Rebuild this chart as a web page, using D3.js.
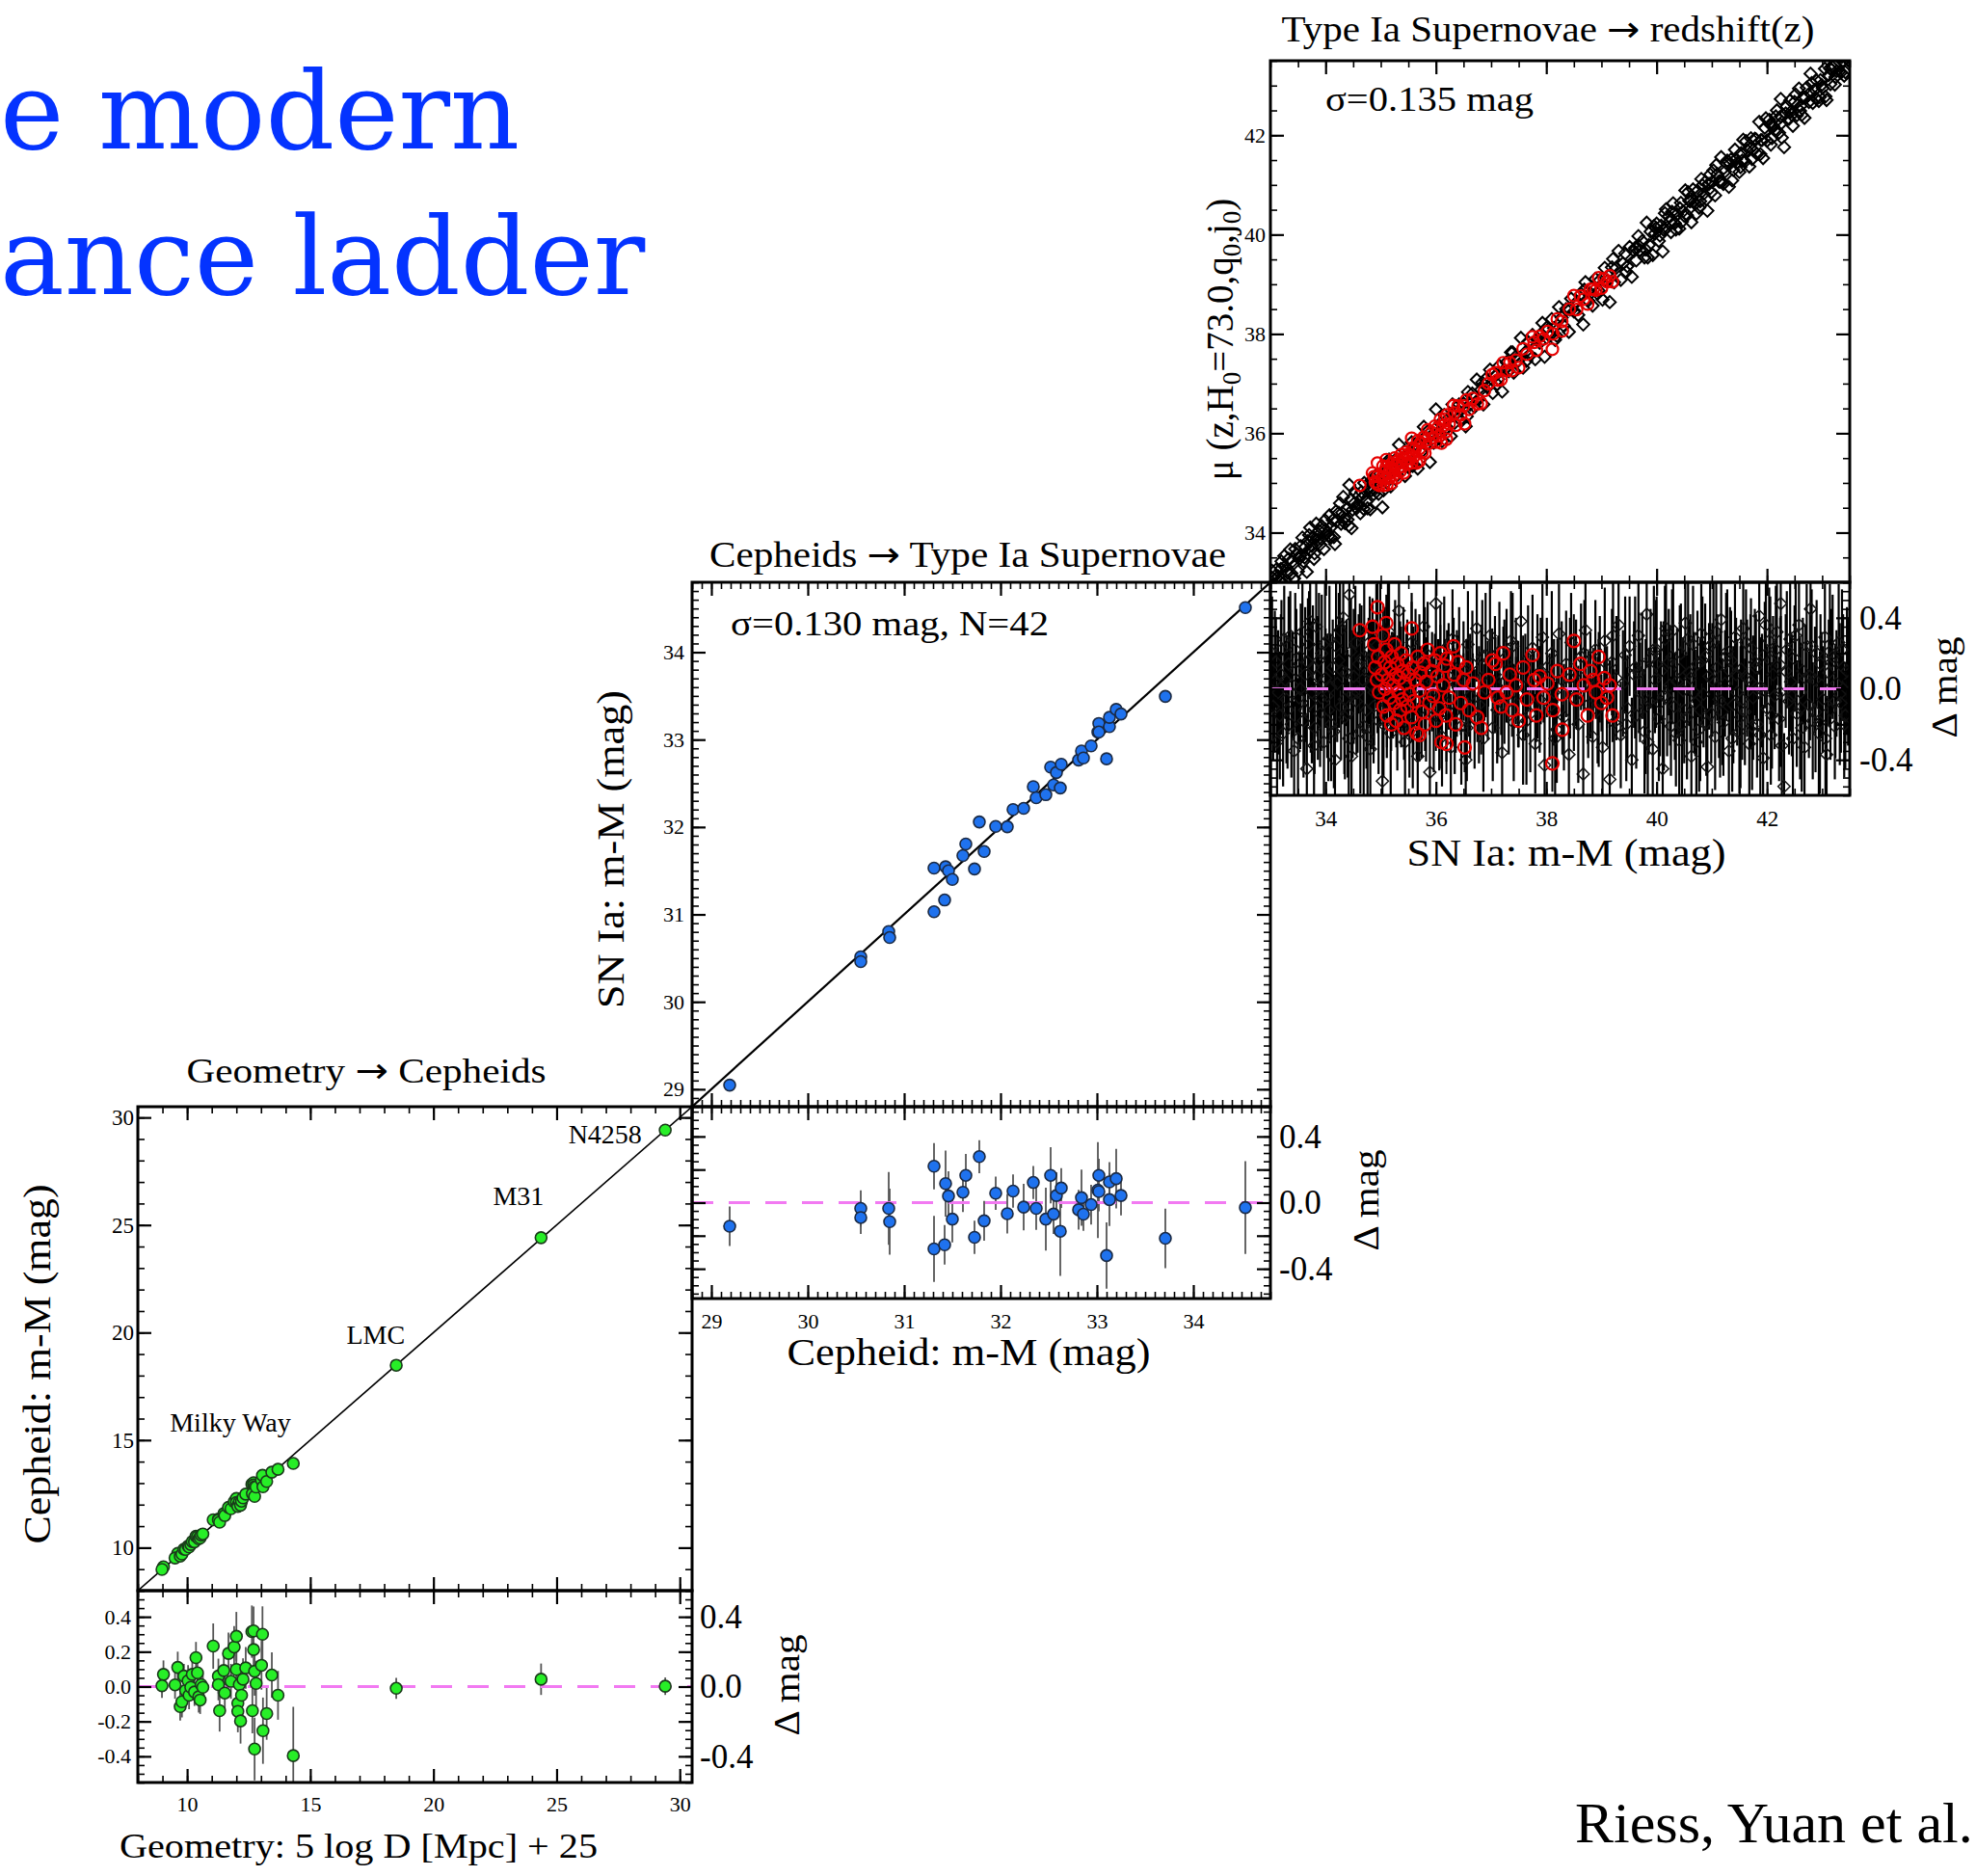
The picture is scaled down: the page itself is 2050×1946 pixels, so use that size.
<!DOCTYPE html>
<html>
<head>
<meta charset="utf-8">
<script src="https://cdn.jsdelivr.net/npm/d3@7"></script>
<style>
body { margin: 0; background: #fff; overflow: hidden; }
</style>
</head>
<body>
<svg id="chart" width="2050" height="1946"></svg>
<script>

// ---------- data ----------

// Geometry -> Cepheids : [5logD+25, delta mag, error]
var geoPts = [
 [9.04,.07,.08],[8.98,.005,.07],[9.62,.11,.09],[9.51,.01,.08],[9.72,-.115,.08],[9.79,-.087,.09],[9.87,.06,.07],
 [9.94,-.022,.08],[10.04,.033,.09],[10.08,-.05,.08],[10.15,-.004,.07],[10.21,.07,.09],[10.30,-.031,.08],
 [10.36,.166,.09],[10.42,.079,.08],[10.47,-.059,.09],[10.53,-.077,.08],[10.57,.011,.07],[10.64,-.004,.08],
 [11.06,.232,.13],[11.27,.06,.10],[11.27,.011,.09],[11.32,-.138,.12],[11.49,.092,.10],[11.53,-.037,.11],
 [11.68,.19,.12],[11.78,.03,.10],[11.91,.227,.12],[12.0,.288,.14],[12.0,.098,.11],[12.06,-.096,.12],
 [12.06,-.142,.12],[12.12,.011,.10],[12.17,-.197,.13],[12.21,-.05,.11],[12.27,.042,.12],[12.38,.107,.12],
 [12.63,.315,.15],[12.70,.319,.14],[12.70,.212,.13],[12.74,.088,.14],[12.65,-.138,.13],[12.74,-.358,.18],
 [12.80,.018,.13],[13.02,.122,.14],[13.06,.30,.16],[13.08,-.253,.19],[13.23,-.155,.15],[13.44,.066,.13],
 [13.69,-.05,.14],[14.31,-.396,.28],[18.49,-.01,.06],[24.37,.042,.09],[29.41,.002,.05]
];
var anchorNames = ["Milky Way", "LMC", "M31", "N4258"];
var anchorX = [9.3, 17.66, 23.45, 28.46];
var anchorY = [15.4, 19.47, 25.93, 28.8];
var anchorAlign = ["start", "middle", "middle", "end"];

// Cepheids -> SN Ia : [Cepheid m-M, delta mag, error]
var cephPts = [
 [29.19,-.143,.12],[30.55,-.035,.11],[30.55,-.09,.10],[30.84,-.035,.22],[30.85,-.115,.20],[31.31,.22,.14],
 [31.31,-.28,.20],[31.42,-.255,.12],[31.43,.115,.20],[31.46,.04,.15],[31.50,-.10,.14],[31.61,.063,.12],
 [31.64,.165,.13],[31.73,-.21,.10],[31.78,.278,.10],[31.83,-.11,.12],[31.95,.057,.10],[32.07,-.067,.12],
 [32.13,.07,.10],[32.24,-.027,.14],[32.34,.122,.10],[32.37,-.035,.13],[32.47,-.10,.19],[32.52,.165,.17],
 [32.55,-.069,.12],[32.58,.043,.14],[32.62,-.173,.27],[32.63,.088,.12],[32.81,-.043,.12],[32.84,.03,.17],
 [32.86,-.07,.10],[32.94,-.012,.12],[33.01,.076,.29],[33.02,.165,.10],[33.02,.067,.12],[33.10,-.32,.20],
 [33.13,.018,.16],[33.13,.125,.12],[33.20,.145,.18],[33.25,.043,.12],[33.71,-.216,.18],[34.54,-.03,.28]
];

// SN Ia -> redshift, Hubble-flow sample (black diamonds) : [m-M, delta mag, error]
var snBlack = [
 [33.05,-.10,.30],[33.10,.15,.25],[33.14,-.02,.35],[33.20,.22,.28],[33.23,-.25,.30],[33.27,.05,.22],[33.31,-.12,.33],[33.36,.30,.25],[33.40,.02,.30],[33.43,-.35,.28],
 [33.47,.10,.35],[33.52,-.05,.25],[33.55,.18,.30],[33.60,-.18,.32],[33.63,.08,.38],[33.66,-.45,.30],[33.70,.25,.30],[33.73,-.08,.28],[33.77,.12,.35],[33.80,-.22,.26],
 [33.83,.35,.30],[33.86,.00,.40],[33.90,-.14,.30],[33.93,.20,.33],[33.97,-.30,.30],[34.00,.06,.28],[34.03,-.04,.35],[34.07,.28,.30],[34.10,-.20,.32],[34.13,.12,.27],
 [34.17,-.40,.30],[34.21,.03,.33],[34.24,.16,.38],[34.28,-.10,.30],[34.32,.40,.28],[34.35,-.16,.35],[34.38,.09,.30],[34.42,-.28,.32],[34.46,.21,.30],[34.49,-.03,.36],
 [34.43,.53,.30],[34.56,-.07,.30],[34.60,.14,.28],[34.63,-.24,.35],[34.67,.05,.30],[34.70,.30,.30],[34.74,-.12,.33],[34.78,.10,.30],[34.81,-.34,.28],[34.85,.18,.32],
 [34.88,-.02,.30],[34.92,.24,.35],[34.96,-.18,.30],[35.00,.07,.28],[35.03,-.52,.30],[35.07,.13,.33],[35.11,-.09,.30],[35.15,.32,.28],[35.18,-.25,.35],[35.22,.02,.30],
 [35.26,.20,.30],[35.30,-.14,.32],[35.33,.44,.30],[35.37,-.05,.28],[35.41,.11,.35],[35.44,-.30,.30],[35.48,.06,.33],[35.52,-.20,.30],[35.56,.26,.28],[35.59,-.01,.36],
 [35.63,.15,.30],[35.67,-.38,.30],[35.70,.09,.33],[35.74,-.11,.28],[35.78,.35,.30],[35.82,-.06,.35],[35.85,.19,.30],[35.89,-.47,.30],[35.93,.04,.28],[35.96,-.15,.32],
 [36.00,.48,.30],[36.04,-.02,.30],[36.08,.12,.35],[36.11,-.27,.28],[36.15,.22,.30],[36.19,-.08,.33],[36.23,.07,.30],[36.27,-.33,.30],[36.30,.28,.28],[36.34,-.13,.35],
 [36.38,.03,.30],[36.42,.16,.30],[36.46,-.21,.33],[36.50,.10,.28],[36.54,-.40,.30],[36.58,.25,.30],[36.62,-.04,.35],[36.66,.14,.30],[36.70,-.17,.28],[36.74,.34,.30],
 [36.78,-.09,.33],[36.82,.06,.30],[36.86,-.28,.30],[36.90,.19,.35],[36.94,-.01,.28],[36.98,.30,.30],[37.03,-.22,.30],[37.07,.08,.33],[37.11,-.12,.30],[37.15,.21,.28],
 [37.20,-.36,.30],[37.24,.04,.35],[37.28,.15,.30],[37.32,-.07,.30],[37.36,.27,.28],[37.41,-.19,.33],[37.45,.10,.30],[37.49,-.03,.30],[37.54,.38,.35],[37.58,-.26,.28],
 [37.62,.01,.30],[37.67,.17,.30],[37.71,-.14,.33],[37.75,.23,.30],[37.80,-.31,.28],[37.84,.07,.35],[37.88,-.06,.30],[37.93,.29,.30],[37.97,-.43,.33],[38.01,.12,.28],
 [38.06,-.10,.30],[38.10,.20,.35],[38.14,-.02,.30],[38.19,-.23,.30],[38.23,.31,.28],[38.28,.05,.33],[38.32,-.16,.30],[38.36,.14,.30],[38.41,-.37,.35],[38.45,.26,.28],
 [38.50,-.05,.30],[38.54,.09,.30],[38.58,-.20,.33],[38.63,.18,.30],[38.67,-.48,.28],[38.71,.33,.35],[38.76,-.09,.30],[38.80,.02,.30],[38.84,-.27,.33],[38.89,.22,.28],
 [38.93,-.12,.30],[38.97,.11,.30],[39.02,-.33,.35],[39.06,.27,.30],[39.10,-.04,.28],[39.15,-.51,.33],[39.19,.15,.30],[39.23,-.19,.30],[39.27,.06,.35],[39.31,.36,.28],
 [39.35,-.26,.30],[39.39,.03,.30],[39.43,.19,.33],[39.47,-.11,.30],[39.51,.24,.28],[39.55,-.40,.35],[39.59,.08,.30],[39.63,-.15,.30],[39.67,.30,.33],[39.70,-.02,.28],
 [39.74,.13,.30],[39.78,-.24,.35],[39.82,.42,.30],[39.86,-.07,.30],[39.89,.17,.28],[39.93,-.34,.33],[39.97,.05,.30],[40.00,.22,.30],[40.04,-.17,.35],[40.08,.10,.28],
 [40.11,-.45,.30],[40.15,.28,.30],[40.19,-.05,.33],[40.22,.15,.30],[40.26,-.21,.28],[40.30,.33,.35],[40.33,-.10,.30],[40.37,.04,.30],[40.41,-.29,.33],[40.44,.20,.28],
 [40.48,-.01,.30],[40.52,.37,.30],[40.55,-.16,.35],[40.59,.09,.30],[40.63,-.38,.28],[40.66,.25,.33],[40.70,-.08,.30],[40.74,.14,.30],[40.77,-.23,.35],[40.81,.31,.28],
 [40.85,-.03,.30],[40.88,.18,.30],[40.92,-.44,.33],[40.95,.07,.30],[40.99,-.14,.28],[41.03,.26,.35],[41.06,-.27,.30],[41.10,.12,.30],[41.13,-.06,.33],[41.17,.39,.28],
 [41.21,-.19,.30],[41.24,.03,.30],[41.28,.21,.35],[41.31,-.35,.30],[41.35,.16,.28],[41.39,-.09,.33],[41.42,.29,.30],[41.46,-.02,.30],[41.50,-.24,.35],[41.53,.11,.28],
 [41.57,.34,.30],[41.60,-.13,.30],[41.64,.06,.33],[41.68,-.31,.30],[41.71,.23,.28],[41.75,-.05,.35],[41.78,.15,.30],[41.82,-.20,.30],[41.86,.41,.33],[41.89,.01,.28],
 [41.93,-.39,.30],[41.96,.19,.30],[42.00,-.11,.35],[42.04,.27,.30],[42.07,-.26,.28],[42.11,.08,.33],[42.14,-.04,.30],[42.18,.32,.30],[42.22,-.17,.35],[42.25,.13,.28],
 [42.31,-.55,.30],[42.25,.48,.30],[42.36,.22,.33],[42.40,-.07,.30],[42.43,.04,.28],[42.47,-.28,.35],[42.50,.17,.30],[42.54,-.14,.30],[42.58,.36,.33],[42.61,-.02,.28],
 [42.65,.10,.30],[42.68,-.33,.30],[42.72,.24,.35],[42.76,-.09,.30],[42.79,.45,.28],[42.83,-.18,.33],[42.87,.05,.30],[42.90,.20,.30],[42.94,-.25,.35],[42.97,.14,.28],
 [43.01,-.06,.30],[43.05,.29,.30],[43.08,-.37,.33],[43.12,.09,.30],[43.15,-.12,.28],[43.19,.18,.35],[43.23,-.21,.30],[43.26,.03,.30],[43.30,.26,.33],[43.34,-.08,.28],
 [43.38,.12,.30],[43.42,-.15,.30],
 [33.08,.04,.40],[33.17,-.15,.36],[33.33,.14,.38],[33.50,-.28,.34],[33.58,.32,.36],[33.75,-.02,.40],[33.88,.16,.38],[34.05,-.12,.40],[34.19,.24,.36],[34.34,-.06,.42],
 [34.51,.07,.38],[34.69,-.21,.40],[34.83,.02,.36],[34.99,.20,.40],[39.61,.12,.40],[39.80,-.10,.38],[39.95,.22,.36],[40.13,-.04,.42],[40.28,.18,.38],[40.46,-.20,.40],
 [40.61,.06,.36],[40.79,-.12,.40],[40.97,.24,.38],[41.15,-.08,.42],[41.33,.10,.36],[41.52,-.16,.40],[41.70,.04,.38],[41.88,-.26,.40],[42.06,.16,.36],[42.24,-.02,.42],
 [42.42,.28,.38],[42.60,-.11,.40],[42.78,.07,.36],[42.96,-.19,.40],[43.14,.21,.38],[43.32,-.03,.40],[43.45,.10,.36],
 [33.03,.20,.32],[33.12,-.30,.30],[33.19,.08,.34],[33.25,.28,.30],[33.29,-.06,.36],[33.38,-.20,.30],[33.45,.22,.32],[33.54,.00,.34],[33.62,-.12,.30],[33.68,.15,.36],
 [33.72,.38,.30],[33.79,-.32,.32],[33.85,.07,.34],[33.92,-.05,.30],[33.99,.26,.36],[34.09,.01,.30],[34.15,-.24,.32],[34.26,.33,.34],[34.30,.10,.30],[34.40,-.14,.36],
 [34.47,-.38,.30],[34.54,.26,.32],[34.58,-.02,.34],[34.65,.17,.30],[34.76,-.27,.36],[34.80,.22,.30],[34.87,-.10,.32],[34.94,.09,.34],[35.05,-.20,.30],[35.13,.27,.36],
 [35.35,.08,.30],[35.58,-.24,.32],[35.80,.12,.34],[36.06,-.16,.30],[36.32,.04,.36],[36.56,-.22,.30],[36.84,.18,.32],[37.13,-.04,.34],[37.39,.24,.30],[37.64,-.18,.36],
 [37.90,.10,.30],[38.16,-.28,.32],[38.43,.06,.34],[38.69,.20,.30],[38.95,-.08,.36],[39.21,.30,.30],[39.45,-.20,.32],[39.68,.09,.34],[39.84,-.30,.30],[39.99,.14,.36],
 [40.06,-.08,.30],[40.17,.34,.32],[40.24,.02,.34],[40.35,-.25,.30],[40.42,.11,.36],[40.50,-.12,.30],[40.57,.28,.32],[40.68,-.02,.34],[40.72,-.30,.30],[40.83,.16,.36],
 [40.90,-.19,.30],[41.01,.05,.32],[41.08,.32,.34],[41.19,-.13,.30],[41.26,.18,.36],[41.37,-.28,.30],[41.44,.08,.32],[41.55,-.06,.34],[41.62,.26,.30],[41.73,-.21,.36],
 [41.80,.12,.30],[41.91,-.01,.32],[41.98,.36,.34],[42.09,-.15,.30],[42.16,.22,.36],[42.27,-.32,.30],[42.34,.10,.32],[42.45,-.04,.34],[42.52,.30,.30],[42.63,-.22,.36],
 [42.70,.06,.30],[42.81,.24,.32],[42.88,-.13,.34],[42.99,.02,.30],[43.06,-.28,.36],[43.17,.15,.30],[43.24,-.07,.32],[43.36,.22,.34],[43.40,-.20,.30],[43.47,.04,.36]
];

// SN Ia with redshift, second sample (red circles) : [m-M, delta mag, error]
var snRed = [
 [34.62,.33,.15],[34.85,.35,.16],[34.88,.25,.14],[34.90,.12,.18],[34.93,.05,.15],[34.95,.18,.17],[34.97,-.02,.14],[34.94,.46,.16],[35.02,.08,.15],[35.04,.30,.18],
 [35.05,-.10,.15],[35.07,.15,.14],[35.08,.00,.16],[35.10,.22,.15],[35.11,-.15,.18],[35.13,.05,.14],[35.10,.37,.16],[35.16,-.05,.15],[35.17,.12,.17],[35.19,-.20,.15],
 [35.20,.18,.14],[35.22,.02,.16],[35.24,-.08,.15],[35.25,.25,.18],[35.27,.08,.14],[35.28,-.18,.15],[35.30,.14,.16],[35.32,-.02,.15],[35.34,.06,.17],[35.35,-.12,.14],
 [35.37,.20,.15],[35.39,-.06,.16],[35.40,.10,.15],[35.42,-.22,.18],[35.44,.03,.14],[35.46,.16,.15],[35.48,-.10,.16],[35.50,.08,.15],[35.52,-.03,.17],[35.56,.34,.15],
 [35.56,-.16,.14],[35.58,.12,.16],[35.60,-.07,.15],[35.62,.05,.18],[35.65,-.25,.15],[35.67,.18,.14],[35.70,-.01,.16],[35.72,.09,.15],[35.75,-.13,.17],[35.78,.14,.14],
 [35.80,-.20,.15],[35.82,.04,.16],[35.85,.22,.15],[35.88,-.08,.18],[35.70,-.26,.15],[35.92,.10,.14],[35.95,-.04,.16],[35.98,.16,.15],[36.00,-.18,.17],[36.03,.07,.14],
 [36.06,-.11,.15],[36.08,.20,.16],[36.10,-.30,.15],[36.13,.02,.18],[36.16,.13,.15],[36.18,-.15,.14],[36.20,.17,.16],[36.24,-.05,.15],[36.19,-.31,.17],[36.32,.24,.14],
 [36.33,.08,.15],[36.36,-.20,.16],[36.40,.15,.15],[36.45,-.08,.18],[36.50,.05,.15],[36.52,-.33,.14],[36.55,.12,.16],[36.60,-.12,.15],[36.67,.03,.17],[36.75,-.16,.14],
 [36.82,-.22,.15],[36.88,-.02,.16],[36.95,.05,.15],[37.02,.16,.18],[37.08,.14,.15],[37.12,-.05,.14],[37.18,-.10,.16],[37.22,.20,.15],[37.28,-.02,.17],[37.34,.08,.14],
 [37.38,-.12,.15],[37.45,.02,.16],[37.50,-.18,.15],[37.58,.12,.18],[37.65,-.06,.15],[37.75,.19,.14],[37.78,.05,.16],[37.82,-.15,.15],[37.88,.07,.17],[37.95,-.05,.14],
 [38.02,.03,.15],[38.11,-.42,.16],[38.12,-.12,.15],[38.20,.10,.18],[38.28,-.03,.15],[38.29,-.23,.14],[38.42,.08,.16],[38.50,.27,.15],[38.55,-.06,.17],[38.62,.14,.14],
 [38.68,.02,.15],[38.75,-.15,.16],[38.80,.10,.15],[38.85,.05,.18],[38.90,-.02,.15],[38.95,.18,.14],[39.00,-.08,.16],[39.05,.06,.15],[39.10,-.05,.17],[39.15,.02,.14],
 [39.20,-.15,.15]
];

// ---------- drawing ----------

var serif = '"Liberation Serif","Times New Roman",serif';
var svg = d3.select("#chart");
var defs = svg.append("defs");

function txt(x, y, s, size, o) {
  o = o || {};
  var t = svg.append("text")
    .attr("x", x).attr("y", y)
    .attr("font-family", o.family || serif)
    .attr("font-size", size)
    .attr("text-anchor", o.anchor || "middle")
    .attr("fill", o.fill || "#000");
  // the arrow of Liberation Serif is tiny; borrow DejaVu's
  s.split(/(\u2192)/).forEach(function (part) {
    if (!part) return;
    var ts = t.append("tspan").text(part);
    if (part === "\u2192") ts.attr("font-family", '"DejaVu Sans",sans-serif');
  });
  if (o.len) t.attr("textLength", o.len).attr("lengthAdjust", "spacingAndGlyphs");
  if (o.rot) t.attr("transform", "rotate(-90," + x + "," + y + ")");
  return t;
}

function addTicks(axisFn, scale, tx, ty, major, minor) {
  [[minor, 7, 1.6], [major, 14, 2.2]].forEach(function (s) {
    var g = svg.append("g")
      .attr("transform", "translate(" + tx + "," + ty + ")")
      .call(axisFn(scale).tickValues(s[0]).tickSize(-s[1]).tickFormat(""));
    g.select(".domain").remove();
    g.selectAll("line").attr("stroke", "#000").attr("stroke-width", s[2]);
  });
}

function frameTicks(xs, ys, xMaj, xMin, yMaj, yMin) {
  var xr = xs.range(), yr = ys.range();
  addTicks(d3.axisBottom, xs, 0, yr[0], xMaj, xMin);
  addTicks(d3.axisTop, xs, 0, yr[1], xMaj, xMin);
  addTicks(d3.axisLeft, ys, xr[0], 0, yMaj, yMin);
  addTicks(d3.axisRight, ys, xr[1], 0, yMaj, yMin);
  svg.append("rect")
    .attr("x", xr[0]).attr("y", yr[1])
    .attr("width", xr[1] - xr[0]).attr("height", yr[0] - yr[1])
    .attr("fill", "none").attr("stroke", "#000").attr("stroke-width", 3);
}

function tickLabels(axisFn, scale, tx, ty, vals, pad, size, fmt) {
  var g = svg.append("g")
    .attr("transform", "translate(" + tx + "," + ty + ")")
    .call(axisFn(scale).tickValues(vals).tickSize(0).tickPadding(pad).tickFormat(fmt));
  g.select(".domain").remove();
  g.attr("font-family", serif).attr("font-size", size);
}

var f1 = function (d) { return d.toFixed(1); };
var f0 = function (d) { return String(d); };
function steps(a, b, s) { return d3.range(Math.round(a / s), Math.round(b / s) + 1).map(function (k) { return +(k * s).toFixed(3); }); }

function makePanel(p) {
  var xs = d3.scaleLinear().domain(p.dom).range([p.x0, p.x1]);
  var ys = d3.scaleLinear().domain(p.dom).range([p.split, p.top]);
  var rs = d3.scaleLinear().domain(p.res).range([p.bot, p.split]);
  defs.append("clipPath").attr("id", p.id + "m").append("rect")
    .attr("x", p.x0).attr("y", p.top).attr("width", p.x1 - p.x0).attr("height", p.split - p.top);
  defs.append("clipPath").attr("id", p.id + "r").append("rect")
    .attr("x", p.x0).attr("y", p.split).attr("width", p.x1 - p.x0).attr("height", p.bot - p.split);
  var gm = svg.append("g").attr("clip-path", "url(#" + p.id + "m)");
  var gr = svg.append("g").attr("clip-path", "url(#" + p.id + "r)");
  gm.append("line")
    .attr("x1", xs(p.dom[0])).attr("y1", ys(p.dom[0]))
    .attr("x2", xs(p.dom[1])).attr("y2", ys(p.dom[1]))
    .attr("stroke", "#000").attr("stroke-width", p.lineW);
  return { xs: xs, ys: ys, rs: rs, gm: gm, gr: gr };
}

function zeroLine(P) {
  var xr = P.xs.range();
  P.gr.append("line")
    .attr("x1", xr[0]).attr("x2", xr[1])
    .attr("y1", P.rs(0)).attr("y2", P.rs(0))
    .attr("stroke", "#f27af2").attr("stroke-width", 3.2)
    .attr("stroke-dasharray", "22,16");
}

function errBars(g, P, data, color, w) {
  g.selectAll(null).data(data).enter().append("line")
    .attr("x1", function (d) { return P.xs(d[0]); })
    .attr("x2", function (d) { return P.xs(d[0]); })
    .attr("y1", function (d) { return P.rs(d[1] - d[2]); })
    .attr("y2", function (d) { return P.rs(d[1] + d[2]); })
    .attr("stroke", color).attr("stroke-width", w);
}

function dots(g, cx, cy, data, r, fill, stroke, sw) {
  g.selectAll(null).data(data).enter().append("circle")
    .attr("cx", cx).attr("cy", cy).attr("r", r)
    .attr("fill", fill).attr("stroke", stroke).attr("stroke-width", sw);
}

var resMaj = [-0.4, -0.2, 0, 0.2, 0.4];
var bigRes = [0.4, 0, -0.4];

// ===== panel 3 : SN Ia -> redshift =====
var P3 = makePanel({ id: "p3", x0: 1318, x1: 1919, top: 63, split: 604, bot: 825, dom: [33, 43.5], res: [-0.6, 0.6], lineW: 2 });
var diamond = d3.symbol().type(d3.symbolDiamond2).size(100);
P3.gm.selectAll(null).data(snBlack).enter().append("path")
  .attr("d", diamond)
  .attr("transform", function (d) { return "translate(" + P3.xs(d[0]) + "," + P3.ys(d[0] + d[1]) + ")"; })
  .attr("fill", "none").attr("stroke", "#000").attr("stroke-width", 2);
dots(P3.gm, function (d) { return P3.xs(d[0]); }, function (d) { return P3.ys(d[0] + d[1]); }, snRed, 6, "none", "#e60000", 2.2);

errBars(P3.gr, P3, snBlack, "#000", 2.2);
errBars(P3.gr, P3, snRed, "#000", 2);
P3.gr.selectAll(null).data(snBlack).enter().append("path")
  .attr("d", diamond)
  .attr("transform", function (d) { return "translate(" + P3.xs(d[0]) + "," + P3.rs(d[1]) + ")"; })
  .attr("fill", "none").attr("stroke", "#111").attr("stroke-width", 1.5);
zeroLine(P3);
dots(P3.gr, function (d) { return P3.xs(d[0]); }, function (d) { return P3.rs(d[1]); }, snRed, 6.5, "none", "#e60000", 2.2);

var snMaj = [34, 36, 38, 40, 42], snMin = steps(33, 43.5, 0.5);
frameTicks(P3.xs, P3.ys, snMaj, snMin, snMaj, snMin);
frameTicks(P3.xs, P3.rs, snMaj, snMin, resMaj, steps(-0.6, 0.6, 0.05));
tickLabels(d3.axisLeft, P3.ys, 1318, 0, snMaj, 5, 22, f0);
tickLabels(d3.axisBottom, P3.xs, 0, 825, snMaj, 16, 23, f0);
tickLabels(d3.axisRight, P3.rs, 1919, 0, bigRes, 10, 35, f1);

// ===== panel 2 : Cepheids -> SN Ia =====
var P2 = makePanel({ id: "p2", x0: 718, x1: 1318, top: 604, split: 1148, bot: 1347, dom: [28.8, 34.8], res: [-0.58, 0.58], lineW: 2.2 });
dots(P2.gm, function (d) { return P2.xs(d[0]); }, function (d) { return P2.ys(d[0] + d[1]); }, cephPts, 6, "#1f72ee", "#1b2a44", 1.6);
errBars(P2.gr, P2, cephPts, "#555", 1.8);
zeroLine(P2);
dots(P2.gr, function (d) { return P2.xs(d[0]); }, function (d) { return P2.rs(d[1]); }, cephPts, 6, "#1f72ee", "#1b2a44", 1.6);

var cMaj = [29, 30, 31, 32, 33, 34], cMin = steps(28.8, 34.8, 0.1);
frameTicks(P2.xs, P2.ys, cMaj, cMin, cMaj, cMin);
frameTicks(P2.xs, P2.rs, cMaj, cMin, resMaj, steps(-0.55, 0.55, 0.05));
tickLabels(d3.axisLeft, P2.ys, 718, 0, cMaj, 8, 22, f0);
tickLabels(d3.axisBottom, P2.xs, 0, 1347, cMaj, 15, 22, f0);
tickLabels(d3.axisRight, P2.rs, 1318, 0, bigRes, 9, 35, f1);

// ===== panel 1 : Geometry -> Cepheids =====
var P1 = makePanel({ id: "p1", x0: 143, x1: 718, top: 1148, split: 1650, bot: 1849, dom: [8, 30.5], res: [-0.55, 0.55], lineW: 1.6 });
dots(P1.gm, function (d) { return P1.xs(d[0]); }, function (d) { return P1.ys(d[0] + d[1]); }, geoPts, 6, "#27ee27", "#1a3a1a", 1.6);
errBars(P1.gr, P1, geoPts, "#555", 1.8);
zeroLine(P1);
dots(P1.gr, function (d) { return P1.xs(d[0]); }, function (d) { return P1.rs(d[1]); }, geoPts, 6, "#27ee27", "#1a3a1a", 1.6);

anchorNames.forEach(function (n, i) {
  txt(P1.xs(anchorX[i]), P1.ys(anchorY[i]), n, 28, { anchor: anchorAlign[i] });
});

var gMaj = [10, 15, 20, 25, 30], gMin = steps(8, 30, 1);
frameTicks(P1.xs, P1.ys, gMaj, gMin, gMaj, gMin);
frameTicks(P1.xs, P1.rs, gMaj, gMin, resMaj, steps(-0.55, 0.55, 0.05));
tickLabels(d3.axisLeft, P1.ys, 143, 0, gMaj, 4, 23, f0);
tickLabels(d3.axisLeft, P1.rs, 143, 0, resMaj, 7, 22, f1);
tickLabels(d3.axisBottom, P1.xs, 0, 1849, gMaj, 14, 22, f0);
tickLabels(d3.axisRight, P1.rs, 718, 0, bigRes, 8, 35, f1);

// ---------- titles and axis names ----------
txt(1606, 43, "Type Ia Supernovae \u2192 redshift(z)", 37, { len: 553 });
txt(1375, 115, "\u03c3=0.135 mag", 36, { anchor: "start", len: 216 });
txt(1625, 898, "SN Ia: m-M (mag)", 40, { len: 331 });
txt(2030, 713, "\u0394 mag", 38, { rot: true, len: 105 });

var mu = svg.append("text")
  .attr("x", 1279).attr("y", 352)
  .attr("transform", "rotate(-90,1279,352)")
  .attr("font-family", serif).attr("font-size", 39).attr("text-anchor", "middle");
[["\u03bc (z,H", 0], ["0", 1], ["=73.0,q", 0], ["0", 1], [",j", 0], ["0", 1], [")", 0]].forEach(function (p, i, arr) {
  var prevSub = i > 0 && arr[i - 1][1];
  var ts = mu.append("tspan").text(p[0]);
  if (p[1]) ts.attr("font-size", 27).attr("dy", 8);
  else if (prevSub) ts.attr("dy", -8);
});

txt(1004, 588, "Cepheids \u2192 Type Ia Supernovae", 37, { len: 536 });
txt(758, 659, "\u03c3=0.130 mag, N=42", 36, { anchor: "start", len: 330 });
txt(1005, 1416, "Cepheid: m-M (mag)", 40, { len: 377 });
txt(647, 881, "SN Ia: m-M (mag)", 40, { rot: true, len: 330 });
txt(1430, 1245, "\u0394 mag", 38, { rot: true, len: 105 });

txt(380, 1123, "Geometry \u2192 Cepheids", 36, { len: 373 });
txt(372, 1927, "Geometry: 5 log D [Mpc] + 25", 36, { len: 496 });
txt(52, 1415, "Cepheid: m-M (mag)", 40, { rot: true, len: 373 });
txt(829, 1748, "\u0394 mag", 38, { rot: true, len: 105 });

// slide heading (left part lies off the slide) and credit
txt(0, 154, "e modern", 112, { anchor: "start", family: '"DejaVu Serif",serif', fill: "#0433ff" });
txt(0, 305, "ance ladder", 112, { anchor: "start", family: '"DejaVu Serif",serif', fill: "#0433ff" });
txt(1634, 1911, "Riess, Yuan et al.", 60, { anchor: "start" });

</script>
</body>
</html>
